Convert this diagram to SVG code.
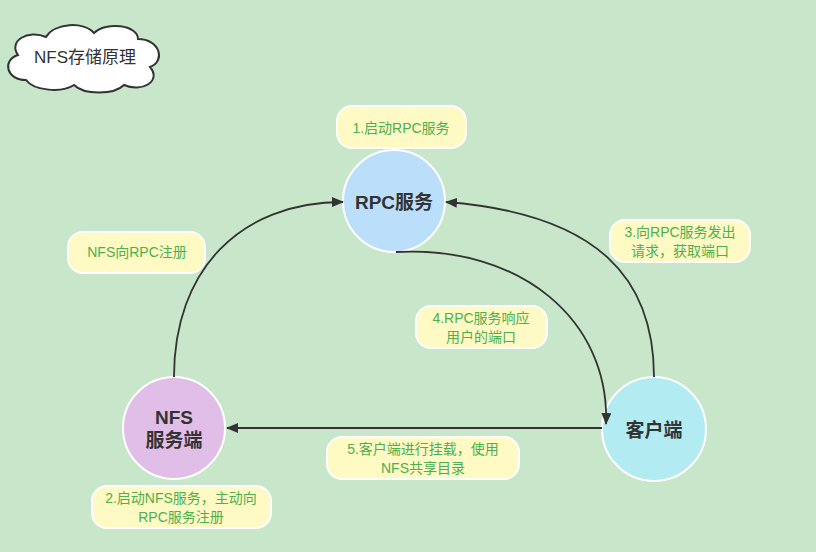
<svg xmlns="http://www.w3.org/2000/svg" width="816" height="552" viewBox="0 0 816 552">
<defs>
<marker id="arr" viewBox="0 0 12 10" refX="11" refY="5" markerWidth="12" markerHeight="10" markerUnits="userSpaceOnUse" orient="auto">
<path d="M0,0 L12,5 L0,10 Z" fill="#333"/>
</marker>
<style>
text{font-family:"Liberation Sans","Noto Sans CJK SC",sans-serif;text-anchor:middle;dominant-baseline:central}
.lbl rect{fill:#fff9c4;stroke:#fff;stroke-width:2}
.lbl text{fill:#4caf50;font-size:14px}
.node circle{stroke:#fff;stroke-width:2}
.node text{fill:#333;font-size:19px;font-weight:bold}
.conn path{fill:none;stroke:#333;stroke-width:1.8;marker-end:url(#arr)}
</style>
</defs>
<rect width="816" height="552" fill="#c8e6c9"/>
<g id="title">
<path d="M26,80 C6,80 2,60 18,55 C8,41 28,29 46,37 C54,23 84,21 94,33 C106,21 138,25 138,39 C160,39 166,61 150,67 C162,81 142,93 124,85 C114,95 84,95 74,85 C62,93 34,91 26,80 Z" fill="#fff" stroke="#333" stroke-width="2"/>
<text x="85" y="57" fill="#333" font-size="17">NFS存储原理</text>
</g>
<g class="node" id="rpc">
<circle cx="394" cy="201" r="51" fill="#bbdefb"/>
<text x="394" y="202">RPC服务</text>
</g>
<g class="node" id="nfs">
<circle cx="174" cy="428" r="51" fill="#e1bee7"/>
<text x="174" y="417">NFS</text>
<text x="174" y="440">服务端</text>
</g>
<g class="node" id="client">
<circle cx="654" cy="429" r="52" fill="#b2ebf2"/>
<text x="654" y="430">客户端</text>
</g>
<g class="conn" id="connectors">
<path d="M174,377 C174,270 240,202 343,202"/>
<path d="M654,377 C654,280 600,214 446,202"/>
<path d="M396,252 C520,245 610,320 606,424"/>
<path d="M602,428 L227,428"/>
</g>
<g class="lbl" id="l1">
<rect x="337" y="106" width="129" height="42" rx="15"/>
<text x="401" y="128">1.启动RPC服务</text>
</g>
<g class="lbl" id="l2">
<rect x="92" y="486" width="179" height="42" rx="15"/>
<text x="181" y="498">2.启动NFS服务，主动向</text>
<text x="181" y="517">RPC服务注册</text>
</g>
<g class="lbl" id="l3">
<rect x="610" y="220" width="140" height="42" rx="15"/>
<text x="680" y="232">3.向RPC服务发出</text>
<text x="680" y="251">请求，获取端口</text>
</g>
<g class="lbl" id="l4">
<rect x="416" y="306" width="131" height="42" rx="15"/>
<text x="481" y="318">4.RPC服务响应</text>
<text x="481" y="337">用户的端口</text>
</g>
<g class="lbl" id="l5">
<rect x="327" y="437" width="192" height="42" rx="15"/>
<text x="423" y="449">5.客户端进行挂载，使用</text>
<text x="423" y="468">NFS共享目录</text>
</g>
<g class="lbl" id="lreg">
<rect x="68" y="232" width="137" height="41" rx="15"/>
<text x="137" y="252">NFS向RPC注册</text>
</g>
</svg>
